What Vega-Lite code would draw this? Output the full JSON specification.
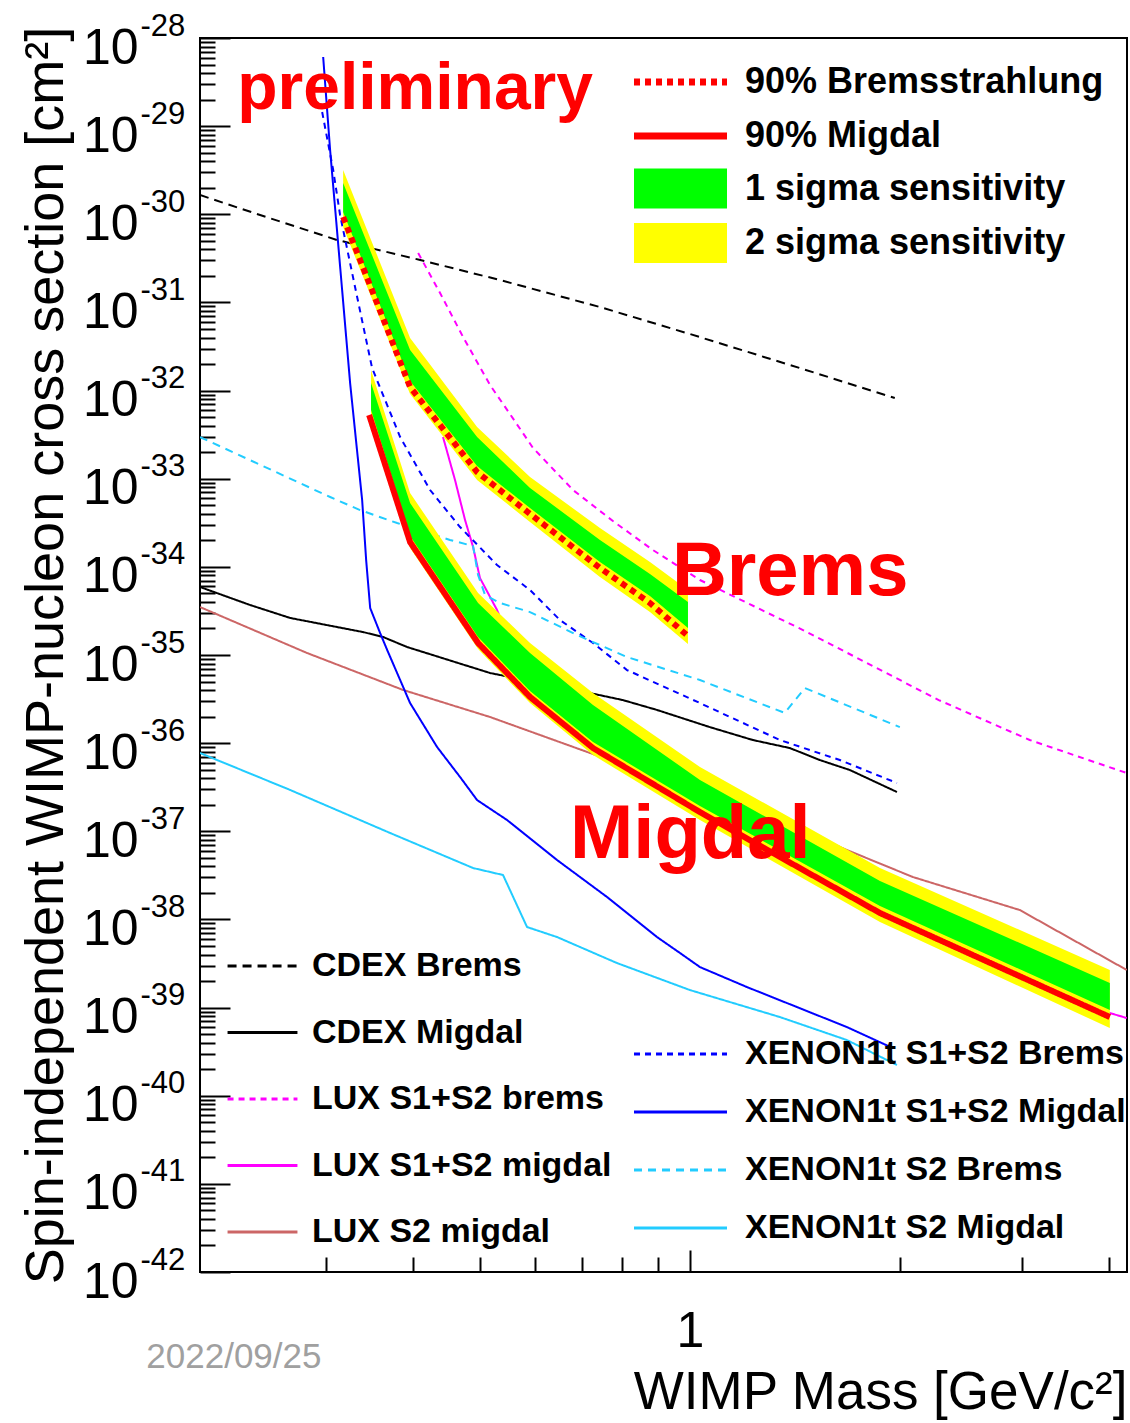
{
  "$schema": "https://vega.github.io/schema/vega-lite/v6.json",
  "width": 927,
  "height": 1234,
  "autosize": {"type": "none"},
  "padding": {"left": 200, "top": 38, "right": 3, "bottom": 151},
  "background": "white",
  "config": {
    "font": "Liberation Sans",
    "view": {"stroke": "black", "strokeWidth": 2},
    "legend": {"labelFont": "Liberation Sans", "labelFontSize": 34, "labelFontWeight": "bold", "labelColor": "black", "padding": 0, "labelLimit": 800, "symbolOpacity": 1, "direction": "vertical", "orient": "none"}
  },
  "datasets": {
    "lim": [
      {"name": "CDEX Brems", "m": 0.198, "s": 1.655e-30},
      {"name": "CDEX Brems", "m": 0.2415, "s": 9.81e-31},
      {"name": "CDEX Brems", "m": 0.3114, "s": 5.11e-31},
      {"name": "CDEX Brems", "m": 0.41, "s": 3.03e-31},
      {"name": "CDEX Brems", "m": 0.5338, "s": 1.796e-31},
      {"name": "CDEX Brems", "m": 0.7427, "s": 8.87e-32},
      {"name": "CDEX Brems", "m": 1, "s": 4.38e-32},
      {"name": "CDEX Brems", "m": 1.438, "s": 1.8e-32},
      {"name": "CDEX Brems", "m": 1.968, "s": 8.23e-33},
      {"name": "CDEX Migdal", "m": 0.198, "s": 5.91e-35},
      {"name": "CDEX Migdal", "m": 0.2337, "s": 3.69e-35},
      {"name": "CDEX Migdal", "m": 0.2668, "s": 2.63e-35},
      {"name": "CDEX Migdal", "m": 0.3395, "s": 1.82e-35},
      {"name": "CDEX Migdal", "m": 0.3627, "s": 1.6e-35},
      {"name": "CDEX Migdal", "m": 0.3926, "s": 1.232e-35},
      {"name": "CDEX Migdal", "m": 0.5164, "s": 6.25e-36},
      {"name": "CDEX Migdal", "m": 0.7187, "s": 3.7e-36},
      {"name": "CDEX Migdal", "m": 0.8013, "s": 3.08e-36},
      {"name": "CDEX Migdal", "m": 0.8968, "s": 2.38e-36},
      {"name": "CDEX Migdal", "m": 1.068, "s": 1.52e-36},
      {"name": "CDEX Migdal", "m": 1.231, "s": 1.085e-36},
      {"name": "CDEX Migdal", "m": 1.391, "s": 8.8e-37},
      {"name": "CDEX Migdal", "m": 1.536, "s": 6.43e-37},
      {"name": "CDEX Migdal", "m": 1.697, "s": 4.95e-37},
      {"name": "CDEX Migdal", "m": 1.982, "s": 2.79e-37},
      {"name": "LUX S1+S2 brems", "m": 0.4072, "s": 3.64e-31},
      {"name": "LUX S1+S2 brems", "m": 0.4378, "s": 1.279e-31},
      {"name": "LUX S1+S2 brems", "m": 0.4724, "s": 4.05e-32},
      {"name": "LUX S1+S2 brems", "m": 0.5164, "s": 1.156e-32},
      {"name": "LUX S1+S2 brems", "m": 0.5516, "s": 5.42e-33},
      {"name": "LUX S1+S2 brems", "m": 0.5953, "s": 2.23e-33},
      {"name": "LUX S1+S2 brems", "m": 0.6795, "s": 7.44e-34},
      {"name": "LUX S1+S2 brems", "m": 0.7752, "s": 3.31e-34},
      {"name": "LUX S1+S2 brems", "m": 0.8849, "s": 1.55e-34},
      {"name": "LUX S1+S2 brems", "m": 1.0336, "s": 7.09e-35},
      {"name": "LUX S1+S2 brems", "m": 1.453, "s": 1.92e-35},
      {"name": "LUX S1+S2 brems", "m": 2.276, "s": 3.08e-36},
      {"name": "LUX S1+S2 brems", "m": 3.074, "s": 1.085e-36},
      {"name": "LUX S1+S2 brems", "m": 4.236, "s": 4.58e-37},
      {"name": "LUX S1+S2 migdal", "m": 0.4421, "s": 2.97e-33},
      {"name": "LUX S1+S2 migdal", "m": 0.46, "s": 9.66e-34},
      {"name": "LUX S1+S2 migdal", "m": 0.4755, "s": 3.4e-34},
      {"name": "LUX S1+S2 migdal", "m": 0.4883, "s": 1.68e-34},
      {"name": "LUX S1+S2 migdal", "m": 0.4995, "s": 7.47e-35},
      {"name": "LUX S1+S2 migdal", "m": 0.5285, "s": 3.24e-35},
      {"name": "LUX S1+S2 migdal", "m": 0.5894, "s": 4.01e-36},
      {"name": "LUX S1+S2 migdal", "m": 0.7258, "s": 9.52e-37},
      {"name": "LUX S1+S2 migdal", "m": 1.0336, "s": 1.65e-37},
      {"name": "LUX S1+S2 migdal", "m": 1.874, "s": 1.182e-38},
      {"name": "LUX S1+S2 migdal", "m": 4.006, "s": 8.67e-40},
      {"name": "LUX S1+S2 migdal", "m": 4.236, "s": 7.61e-40},
      {"name": "LUX S2 migdal", "m": 0.198, "s": 3.5e-35},
      {"name": "LUX S2 migdal", "m": 0.2821, "s": 1.053e-35},
      {"name": "LUX S2 migdal", "m": 0.3875, "s": 4.01e-36},
      {"name": "LUX S2 migdal", "m": 0.5164, "s": 1.98e-36},
      {"name": "LUX S2 migdal", "m": 0.7187, "s": 7.73e-37},
      {"name": "LUX S2 migdal", "m": 1.391, "s": 1.178e-37},
      {"name": "LUX S2 migdal", "m": 1.68, "s": 6.13e-38},
      {"name": "LUX S2 migdal", "m": 2.089, "s": 3.03e-38},
      {"name": "LUX S2 migdal", "m": 2.975, "s": 1.278e-38},
      {"name": "LUX S2 migdal", "m": 4.236, "s": 2.67e-39}
    ],
    "xe": [
      {"name": "XENON1t S1+S2 Brems", "m": 0.2965, "s": 1.447e-29},
      {"name": "XENON1t S1+S2 Brems", "m": 0.3075, "s": 3.18e-30},
      {"name": "XENON1t S1+S2 Brems", "m": 0.3146, "s": 9.81e-31},
      {"name": "XENON1t S1+S2 Brems", "m": 0.3317, "s": 1.312e-31},
      {"name": "XENON1t S1+S2 Brems", "m": 0.3497, "s": 1.8e-32},
      {"name": "XENON1t S1+S2 Brems", "m": 0.3651, "s": 7.81e-33},
      {"name": "XENON1t S1+S2 Brems", "m": 0.3837, "s": 2.97e-33},
      {"name": "XENON1t S1+S2 Brems", "m": 0.4236, "s": 7.44e-34},
      {"name": "XENON1t S1+S2 Brems", "m": 0.4677, "s": 2.83e-34},
      {"name": "XENON1t S1+S2 Brems", "m": 0.5285, "s": 1.049e-34},
      {"name": "XENON1t S1+S2 Brems", "m": 0.5894, "s": 5.46e-35},
      {"name": "XENON1t S1+S2 Brems", "m": 0.6508, "s": 2.49e-35},
      {"name": "XENON1t S1+S2 Brems", "m": 0.7258, "s": 1.367e-35},
      {"name": "XENON1t S1+S2 Brems", "m": 0.8121, "s": 6.75e-36},
      {"name": "XENON1t S1+S2 Brems", "m": 1.0336, "s": 2.85e-36},
      {"name": "XENON1t S1+S2 Brems", "m": 1.346, "s": 1.085e-36},
      {"name": "XENON1t S1+S2 Brems", "m": 1.641, "s": 6.43e-37},
      {"name": "XENON1t S1+S2 Brems", "m": 1.982, "s": 3.53e-37},
      {"name": "XENON1t S1+S2 Migdal", "m": 0.2975, "s": 6.09e-29},
      {"name": "XENON1t S1+S2 Migdal", "m": 0.3044, "s": 5.36e-30},
      {"name": "XENON1t S1+S2 Migdal", "m": 0.3252, "s": 1.218e-32},
      {"name": "XENON1t S1+S2 Migdal", "m": 0.3384, "s": 5.73e-34},
      {"name": "XENON1t S1+S2 Migdal", "m": 0.3429, "s": 1.196e-34},
      {"name": "XENON1t S1+S2 Migdal", "m": 0.3475, "s": 3.41e-35},
      {"name": "XENON1t S1+S2 Migdal", "m": 0.3591, "s": 1.776e-35},
      {"name": "XENON1t S1+S2 Migdal", "m": 0.3676, "s": 1.139e-35},
      {"name": "XENON1t S1+S2 Migdal", "m": 0.3965, "s": 2.85e-36},
      {"name": "XENON1t S1+S2 Migdal", "m": 0.4335, "s": 9.04e-37},
      {"name": "XENON1t S1+S2 Migdal", "m": 0.4677, "s": 4.13e-37},
      {"name": "XENON1t S1+S2 Migdal", "m": 0.4948, "s": 2.26e-37},
      {"name": "XENON1t S1+S2 Migdal", "m": 0.5463, "s": 1.342e-37},
      {"name": "XENON1t S1+S2 Migdal", "m": 0.6445, "s": 4.72e-38},
      {"name": "XENON1t S1+S2 Migdal", "m": 0.7603, "s": 1.796e-38},
      {"name": "XENON1t S1+S2 Migdal", "m": 0.8968, "s": 6.31e-39},
      {"name": "XENON1t S1+S2 Migdal", "m": 0.9676, "s": 4.16e-39},
      {"name": "XENON1t S1+S2 Migdal", "m": 1.0336, "s": 2.88e-39},
      {"name": "XENON1t S1+S2 Migdal", "m": 1.207, "s": 1.71e-39},
      {"name": "XENON1t S1+S2 Migdal", "m": 1.424, "s": 1.014e-39},
      {"name": "XENON1t S1+S2 Migdal", "m": 1.68, "s": 6.01e-40},
      {"name": "XENON1t S1+S2 Migdal", "m": 1.955, "s": 3.47e-40},
      {"name": "XENON1t S2 Brems", "m": 0.198, "s": 2.97e-33},
      {"name": "XENON1t S2 Brems", "m": 0.3044, "s": 6.2e-34},
      {"name": "XENON1t S2 Brems", "m": 0.3361, "s": 4.41e-34},
      {"name": "XENON1t S2 Brems", "m": 0.3799, "s": 3.14e-34},
      {"name": "XENON1t S2 Brems", "m": 0.4524, "s": 2.02e-34},
      {"name": "XENON1t S2 Brems", "m": 0.4883, "s": 1.72e-34},
      {"name": "XENON1t S2 Brems", "m": 0.4964, "s": 8.08e-35},
      {"name": "XENON1t S2 Brems", "m": 0.508, "s": 4.79e-35},
      {"name": "XENON1t S2 Brems", "m": 0.5338, "s": 3.89e-35},
      {"name": "XENON1t S2 Brems", "m": 0.5894, "s": 3.07e-35},
      {"name": "XENON1t S2 Brems", "m": 0.6884, "s": 1.686e-35},
      {"name": "XENON1t S2 Brems", "m": 0.8121, "s": 9.49e-36},
      {"name": "XENON1t S2 Brems", "m": 1.0336, "s": 5.2e-36},
      {"name": "XENON1t S2 Brems", "m": 1.368, "s": 2.2e-36},
      {"name": "XENON1t S2 Brems", "m": 1.462, "s": 4.22e-36},
      {"name": "XENON1t S2 Brems", "m": 2.001, "s": 1.52e-36},
      {"name": "XENON1t S2 Migdal", "m": 0.198, "s": 7.73e-37},
      {"name": "XENON1t S2 Migdal", "m": 0.2668, "s": 2.94e-37},
      {"name": "XENON1t S2 Migdal", "m": 0.3712, "s": 9.56e-38},
      {"name": "XENON1t S2 Migdal", "m": 0.4883, "s": 3.83e-38},
      {"name": "XENON1t S2 Migdal", "m": 0.5391, "s": 3.19e-38},
      {"name": "XENON1t S2 Migdal", "m": 0.5836, "s": 8.2e-39},
      {"name": "XENON1t S2 Migdal", "m": 0.6445, "s": 6.31e-39},
      {"name": "XENON1t S2 Migdal", "m": 0.7856, "s": 3.2e-39},
      {"name": "XENON1t S2 Migdal", "m": 1, "s": 1.58e-39},
      {"name": "XENON1t S2 Migdal", "m": 1.346, "s": 7.81e-40},
      {"name": "XENON1t S2 Migdal", "m": 1.68, "s": 4.28e-40},
      {"name": "XENON1t S2 Migdal", "m": 1.982, "s": 2.23e-40}
    ],
    "band": [
      {"series": "Brems", "band": "2 sigma sensitivity", "m": 0.3178, "s": 3.18e-30, "s2": 7.17e-31},
      {"series": "Brems", "band": "2 sigma sensitivity", "m": 0.3965, "s": 3.95e-32, "s2": 9.14e-33},
      {"series": "Brems", "band": "2 sigma sensitivity", "m": 0.4948, "s": 3.86e-33, "s2": 9.66e-34},
      {"series": "Brems", "band": "2 sigma sensitivity", "m": 0.5894, "s": 1.045e-33, "s2": 3.23e-34},
      {"series": "Brems", "band": "2 sigma sensitivity", "m": 0.7427, "s": 2.76e-34, "s2": 7.67e-35},
      {"series": "Brems", "band": "2 sigma sensitivity", "m": 0.8762, "s": 1.135e-34, "s2": 3.07e-35},
      {"series": "Brems", "band": "2 sigma sensitivity", "m": 0.9934, "s": 5.46e-35, "s2": 1.332e-35},
      {"series": "Brems", "band": "1 sigma sensitivity", "m": 0.3178, "s": 2.26e-30, "s2": 1.061e-30},
      {"series": "Brems", "band": "1 sigma sensitivity", "m": 0.3965, "s": 2.88e-32, "s2": 1.283e-32},
      {"series": "Brems", "band": "1 sigma sensitivity", "m": 0.4948, "s": 2.97e-33, "s2": 1.393e-33},
      {"series": "Brems", "band": "1 sigma sensitivity", "m": 0.5894, "s": 7.84e-34, "s2": 4.65e-34},
      {"series": "Brems", "band": "1 sigma sensitivity", "m": 0.7427, "s": 2.02e-34, "s2": 1.135e-34},
      {"series": "Brems", "band": "1 sigma sensitivity", "m": 0.8762, "s": 8.29e-35, "s2": 4.67e-35},
      {"series": "Brems", "band": "1 sigma sensitivity", "m": 0.9934, "s": 3.99e-35, "s2": 2.02e-35},
      {"series": "Migdal", "band": "2 sigma sensitivity", "m": 0.3485, "s": 1.71e-32, "s2": 4.4e-33},
      {"series": "Migdal", "band": "2 sigma sensitivity", "m": 0.3965, "s": 6.88e-34, "s2": 1.64e-34},
      {"series": "Migdal", "band": "2 sigma sensitivity", "m": 0.4964, "s": 5.05e-35, "s2": 1.169e-35},
      {"series": "Migdal", "band": "2 sigma sensitivity", "m": 0.5894, "s": 1.367e-35, "s2": 2.85e-36},
      {"series": "Migdal", "band": "2 sigma sensitivity", "m": 0.7258, "s": 3.7e-36, "s2": 7.33e-37},
      {"series": "Migdal", "band": "2 sigma sensitivity", "m": 1.0336, "s": 5.36e-37, "s2": 1.342e-37},
      {"series": "Migdal", "band": "2 sigma sensitivity", "m": 1.874, "s": 3.83e-38, "s2": 9.34e-39},
      {"series": "Migdal", "band": "2 sigma sensitivity", "m": 4.006, "s": 2.67e-39, "s2": 5.86e-40},
      {"series": "Migdal", "band": "1 sigma sensitivity", "m": 0.3485, "s": 1.218e-32, "s2": 6.02e-33},
      {"series": "Migdal", "band": "1 sigma sensitivity", "m": 0.3965, "s": 5.3e-34, "s2": 2.24e-34},
      {"series": "Migdal", "band": "1 sigma sensitivity", "m": 0.4964, "s": 3.89e-35, "s2": 1.6e-35},
      {"series": "Migdal", "band": "1 sigma sensitivity", "m": 0.5894, "s": 1.053e-35, "s2": 3.9e-36},
      {"series": "Migdal", "band": "1 sigma sensitivity", "m": 0.7258, "s": 2.71e-36, "s2": 1.03e-36},
      {"series": "Migdal", "band": "1 sigma sensitivity", "m": 1.0336, "s": 3.82e-37, "s2": 1.934e-37},
      {"series": "Migdal", "band": "1 sigma sensitivity", "m": 1.874, "s": 2.73e-38, "s2": 1.419e-38},
      {"series": "Migdal", "band": "1 sigma sensitivity", "m": 4.006, "s": 1.9e-39, "s2": 9.38e-40}
    ],
    "red": [
      {"name": "90% Bremsstrahlung", "m": 0.3178, "s": 9.31e-31},
      {"name": "90% Bremsstrahlung", "m": 0.3965, "s": 1.097e-32},
      {"name": "90% Bremsstrahlung", "m": 0.4948, "s": 1.191e-33},
      {"name": "90% Bremsstrahlung", "m": 0.5894, "s": 3.98e-34},
      {"name": "90% Bremsstrahlung", "m": 0.7427, "s": 9.7e-35},
      {"name": "90% Bremsstrahlung", "m": 0.8762, "s": 3.89e-35},
      {"name": "90% Bremsstrahlung", "m": 0.9934, "s": 1.64e-35},
      {"name": "90% Migdal", "m": 0.3463, "s": 5.28e-33},
      {"name": "90% Migdal", "m": 0.3965, "s": 1.91e-34},
      {"name": "90% Migdal", "m": 0.4964, "s": 1.367e-35},
      {"name": "90% Migdal", "m": 0.5894, "s": 3.34e-36},
      {"name": "90% Migdal", "m": 0.7258, "s": 8.8e-37},
      {"name": "90% Migdal", "m": 1.0336, "s": 1.65e-37},
      {"name": "90% Migdal", "m": 1.874, "s": 1.182e-38},
      {"name": "90% Migdal", "m": 4.006, "s": 7.81e-40}
    ]
  },
  "layer": [
    {
      "encoding": {
        "x": {
          "field": "m", "type": "quantitative",
          "scale": {"type": "log", "domain": [0.198, 4.24], "nice": false},
          "axis": {
            "orient": "bottom",
            "values": [0.3, 0.4, 0.5, 0.6, 0.7, 0.8, 0.9, 1, 2, 3, 4],
            "labelExpr": "datum.value == 1 ? '1' : ''",
            "domain": false, "grid": false,
            "tickSize": -22, "tickWidth": 2, "tickColor": "black",
            "tickDash": {"condition": {"test": "datum.value == 1", "value": []}, "value": [15, 100]},
            "labelFont": "Liberation Sans", "labelFontSize": 50, "labelColor": "black",
            "labelBaseline": "top", "labelPadding": 56,
            "labelOverlap": false, "labelBound": false, "labelFlush": false,
            "title": "WIMP Mass [GeV/c²]", "titleFont": "Liberation Sans", "titleFontSize": 53,
            "titleFontWeight": "normal", "titleColor": "black",
            "titleX": 927, "titleY": 136, "titleAlign": "right", "titleBaseline": "alphabetic", "titleAngle": 0
          }
        },
        "y": {
          "field": "s", "type": "quantitative",
          "scale": {"type": "log", "domain": [1e-42, 1e-28], "nice": false},
          "axis": {
            "orient": "left",
            "values": [1e-42,2e-42,3e-42,4e-42,5e-42,6e-42,7e-42,8e-42,9e-42,
                       1e-41,2e-41,3e-41,4e-41,5e-41,6e-41,7e-41,8e-41,9e-41,
                       1e-40,2e-40,3e-40,4e-40,5e-40,6e-40,7e-40,8e-40,9e-40,
                       1e-39,2e-39,3e-39,4e-39,5e-39,6e-39,7e-39,8e-39,9e-39,
                       1e-38,2e-38,3e-38,4e-38,5e-38,6e-38,7e-38,8e-38,9e-38,
                       1e-37,2e-37,3e-37,4e-37,5e-37,6e-37,7e-37,8e-37,9e-37,
                       1e-36,2e-36,3e-36,4e-36,5e-36,6e-36,7e-36,8e-36,9e-36,
                       1e-35,2e-35,3e-35,4e-35,5e-35,6e-35,7e-35,8e-35,9e-35,
                       1e-34,2e-34,3e-34,4e-34,5e-34,6e-34,7e-34,8e-34,9e-34,
                       1e-33,2e-33,3e-33,4e-33,5e-33,6e-33,7e-33,8e-33,9e-33,
                       1e-32,2e-32,3e-32,4e-32,5e-32,6e-32,7e-32,8e-32,9e-32,
                       1e-31,2e-31,3e-31,4e-31,5e-31,6e-31,7e-31,8e-31,9e-31,
                       1e-30,2e-30,3e-30,4e-30,5e-30,6e-30,7e-30,8e-30,9e-30,
                       1e-29,2e-29,3e-29,4e-29,5e-29,6e-29,7e-29,8e-29,9e-29,
                       1e-28],
            "labelExpr": "abs(log(datum.value)/LN10-round(log(datum.value)/LN10))<0.01 ? '10' : ''",
            "domain": false, "grid": false,
            "tickSize": -30, "tickWidth": 2, "tickColor": "black",
            "tickDash": {"condition": {"test": "abs(log(datum.value)/LN10-round(log(datum.value)/LN10))<0.01", "value": []}, "value": [15, 100]},
            "labelFont": "Liberation Sans", "labelFontSize": 50, "labelColor": "black",
            "labelAlign": "right", "labelBaseline": "alphabetic", "labelOffset": 25, "labelPadding": 92,
            "labelOverlap": false, "labelBound": false, "labelFlush": false,
            "title": "Spin-independent WIMP-nucleon cross section [cm²]",
            "titleFont": "Liberation Sans", "titleFontSize": 54, "titleFontWeight": "normal", "titleColor": "black",
            "titleAngle": 270, "titleAlign": "center", "titleBaseline": "alphabetic", "titleX": -138, "titleY": 617
          }
        }
      },
      "layer": [
        {
          "data": {"name": "lim"},
          "mark": {"type": "line", "strokeWidth": 2, "clip": true},
          "encoding": {
            "color": {
              "field": "name", "type": "nominal",
              "scale": {"domain": ["CDEX Brems", "CDEX Migdal", "LUX S1+S2 brems", "LUX S1+S2 migdal", "LUX S2 migdal"],
                        "range": ["#000000", "#000000", "#ff00ff", "#ff00ff", "#cc6666"]},
              "legend": {"title": null, "orient": "none", "legendX": 45.5, "legendY": 911, "symbolType": "M-2.33,0H2.33", "symbolSize": 900, "symbolStrokeWidth": 3, "labelOffset": 32.5, "rowPadding": 32.5}
            },
            "strokeDash": {
              "field": "name", "type": "nominal",
              "scale": {"domain": ["CDEX Brems", "CDEX Migdal", "LUX S1+S2 brems", "LUX S1+S2 migdal", "LUX S2 migdal"],
                        "range": [[9, 6], [1, 0], [6, 5], [1, 0], [1, 0]]},
              "legend": {"title": null, "orient": "none", "legendX": 45.5, "legendY": 911, "symbolType": "M-2.33,0H2.33", "symbolSize": 900, "symbolStrokeWidth": 3, "labelOffset": 32.5, "rowPadding": 32.5}
            }
          }
        },
        {
          "data": {"name": "xe"},
          "mark": {"type": "line", "strokeWidth": 2, "clip": true},
          "encoding": {
            "color": {
              "field": "name", "type": "nominal",
              "scale": {"domain": ["XENON1t S1+S2 Brems", "XENON1t S1+S2 Migdal", "XENON1t S2 Brems", "XENON1t S2 Migdal"],
                        "range": ["#0000ff", "#0000ff", "#22ccff", "#22ccff"]},
              "legend": {"title": null, "orient": "none", "legendX": 463.5, "legendY": 999, "symbolType": "M-3.1,0H3.1", "symbolSize": 900, "symbolStrokeWidth": 3, "labelOffset": 47.5, "rowPadding": 24}
            },
            "strokeDash": {
              "field": "name", "type": "nominal",
              "scale": {"domain": ["XENON1t S1+S2 Brems", "XENON1t S1+S2 Migdal", "XENON1t S2 Brems", "XENON1t S2 Migdal"],
                        "range": [[6, 5], [1, 0], [8, 6], [1, 0]]},
              "legend": {"title": null, "orient": "none", "legendX": 463.5, "legendY": 999, "symbolType": "M-3.1,0H3.1", "symbolSize": 900, "symbolStrokeWidth": 3, "labelOffset": 47.5, "rowPadding": 24}
            }
          }
        },
        {
          "layer": [
            {
              "data": {"name": "band"},
              "transform": [{"filter": "datum.band == '2 sigma sensitivity'"}],
              "mark": {"type": "area", "opacity": 1, "clip": true},
              "encoding": {
                "y2": {"field": "s2"},
                "detail": {"field": "series", "type": "nominal"},
                "color": {
                  "field": "band", "type": "nominal",
                  "scale": {"domain": ["1 sigma sensitivity", "2 sigma sensitivity"], "range": ["#00ff00", "#ffff00"]},
                  "legend": {"title": null, "orient": "none", "legendX": 462.5, "legendY": 132.5, "symbolType": "M-3.1,-1.33H3.1V1.33H-3.1Z", "symbolSize": 900, "symbolStrokeWidth": 0, "labelFontSize": 36, "labelOffset": 46.5, "rowPadding": 14.5}
                }
              }
            },
            {
              "data": {"name": "band"},
              "transform": [{"filter": "datum.band == '1 sigma sensitivity'"}],
              "mark": {"type": "area", "opacity": 1, "clip": true},
              "encoding": {
                "y2": {"field": "s2"},
                "detail": {"field": "series", "type": "nominal"},
                "color": {
                  "field": "band", "type": "nominal",
                  "scale": {"domain": ["1 sigma sensitivity", "2 sigma sensitivity"], "range": ["#00ff00", "#ffff00"]},
                  "legend": {"title": null, "orient": "none", "legendX": 462.5, "legendY": 132.5, "symbolType": "M-3.1,-1.33H3.1V1.33H-3.1Z", "symbolSize": 900, "symbolStrokeWidth": 0, "labelFontSize": 36, "labelOffset": 46.5, "rowPadding": 14.5}
                }
              }
            }
          ]
        },
        {
          "data": {"name": "red"},
          "mark": {"type": "line", "strokeWidth": 6, "clip": true},
          "encoding": {
            "color": {
              "field": "name", "type": "nominal",
              "scale": {"domain": ["90% Bremsstrahlung", "90% Migdal"], "range": ["#ff0000", "#ff0000"]},
              "legend": {"title": null, "orient": "none", "legendX": 462, "legendY": 25.5, "symbolType": "M-3.1,0H3.1", "symbolSize": 900, "symbolStrokeWidth": 7, "labelFontSize": 36, "labelOffset": 46, "rowPadding": 17}
            },
            "strokeDash": {
              "field": "name", "type": "nominal",
              "scale": {"domain": ["90% Bremsstrahlung", "90% Migdal"], "range": [[6, 5], [1, 0]]},
              "legend": {"title": null, "orient": "none", "legendX": 462, "legendY": 25.5, "symbolType": "M-3.1,0H3.1", "symbolSize": 900, "symbolStrokeWidth": 7, "labelFontSize": 36, "labelOffset": 46, "rowPadding": 17}
            }
          }
        },
        {
          "data": {"values": [{"t": "preliminary", "m": 0.2239, "s": 1.565e-29}]},
          "mark": {"type": "text", "align": "left", "baseline": "alphabetic", "font": "Liberation Sans", "fontWeight": "bold", "fontSize": 66, "color": "#ff0000"},
          "encoding": {"text": {"field": "t", "type": "nominal"}}
        },
        {
          "data": {"values": [{"t": "Brems", "m": 0.942, "s": 4.79e-35}, {"t": "Migdal", "m": 0.6727, "s": 4.97e-38}]},
          "mark": {"type": "text", "align": "left", "baseline": "alphabetic", "font": "Liberation Sans", "fontWeight": "bold", "fontSize": 76, "color": "#ff0000"},
          "encoding": {"text": {"field": "t", "type": "nominal"}}
        },
        {
          "data": {"values": [{"t": "2022/09/25", "m": 0.1658, "s": 8.13e-44}]},
          "mark": {"type": "text", "align": "left", "baseline": "alphabetic", "font": "Liberation Sans", "fontSize": 35, "color": "#a0a0a0"},
          "encoding": {"text": {"field": "t", "type": "nominal"}}
        }
      ],
      "resolve": {"scale": {"color": "independent", "strokeDash": "independent"}}
    },
    {
      "data": {"name": "red"},
      "mark": {"type": "point", "opacity": 0},
      "encoding": {
        "y": {
          "field": "s", "type": "quantitative",
          "scale": {"type": "log", "domain": [1e-42, 1e-28], "nice": false},
          "axis": {
            "orient": "left",
            "values": [1e-42,1e-41,1e-40,1e-39,1e-38,1e-37,1e-36,1e-35,1e-34,1e-33,1e-32,1e-31,1e-30,1e-29,1e-28],
            "labelExpr": "'-' + round(-log(datum.value)/LN10)",
            "ticks": false, "tickSize": 0, "domain": false, "grid": false,
            "labelFont": "Liberation Sans", "labelFontSize": 31, "labelColor": "black",
            "labelAlign": "left", "labelBaseline": "alphabetic", "labelOffset": -3, "labelPadding": 60,
            "labelOverlap": false, "labelBound": false, "labelFlush": false,
            "title": null
          }
        }
      }
    }
  ],
  "resolve": {"axis": {"y": "independent"}}
}
